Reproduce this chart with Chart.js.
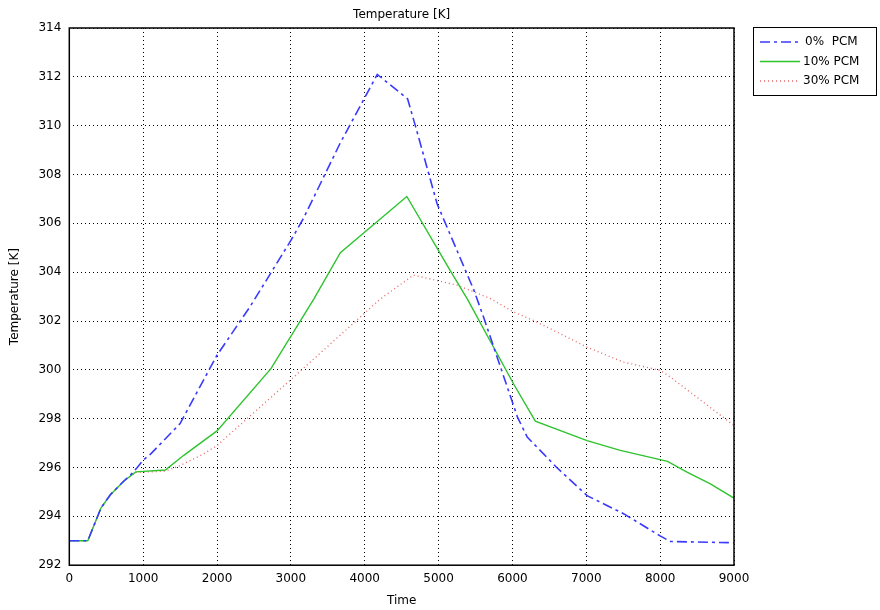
<!DOCTYPE html>
<html>
<head>
<meta charset="utf-8">
<script src="https://cdn.jsdelivr.net/npm/chart.js@4"></script>
<style>
  html, body { margin: 0; padding: 0; background: #fff; }
  #wrap { width: 880px; height: 610px; }
</style>
</head>
<body>
<div id="wrap"><canvas id="myChart" width="880" height="610"></canvas></div>
<script>
// serie: tempo [s] e temperatura [K]
const time0 = [0, 250, 430, 560, 740, 830, 920, 1000, 1100, 1500, 2000, 2450, 3000, 3170, 3670, 4170, 4580, 4690, 4980, 5480, 5610, 6070, 6200, 6600, 7010, 7510, 8000, 8140, 9000]
const temp0 = [293, 293, 294.35, 294.9, 295.45, 295.7, 296.0, 296.3, 296.55, 297.8, 300.6, 302.6, 305.3, 306.2, 309.3, 312.1, 311.1, 309.95, 306.8, 303.25, 302.15, 298.05, 297.25, 296.0, 294.85, 294.1, 293.2, 292.97, 292.92]

const time10 = [0, 250, 430, 560, 740, 900, 1300, 1550, 1820, 2000, 2730, 3310, 3670, 4570, 5160, 5390, 6020, 6310, 7010, 7460, 8100, 8370, 8680, 9000]
const temp10 = [293, 293, 294.35, 294.9, 295.45, 295.82, 295.9, 296.5, 297.1, 297.5, 300.05, 302.9, 304.8, 307.1, 304.05, 302.9, 299.4, 297.9, 297.1, 296.7, 296.25, 295.8, 295.33, 294.75]

const time30 = [0, 250, 430, 560, 740, 900, 1300, 1500, 1820, 2000, 3000, 4210, 4660, 5250, 5700, 6020, 6330, 7010, 7500, 8000, 8140, 9000]
const temp30 = [293, 293, 294.35, 294.9, 295.45, 295.8, 295.85, 296.08, 296.56, 296.9, 299.6, 302.9, 303.88, 303.47, 302.92, 302.37, 301.96, 300.93, 300.32, 299.98, 299.7, 297.72]

const seriesLabels = ['0%  PCM', '10% PCM', '30% PCM']
const xTicks = [0, 1000, 2000, 3000, 4000, 5000, 6000, 7000, 8000, 9000]
const yTicks = [292, 294, 296, 298, 300, 302, 304, 306, 308, 310, 312, 314]

const FONT = 'DejaVu Sans'

function toPoints(xs, ys) {
  return xs.map((x, i) => ({ x: x, y: ys[i] }))
}

// titolo sopra l'area del grafico + cornice nera
const framePlugin = {
  id: 'frame',
  afterDraw: function (chart) {
    const ctx = chart.ctx
    const a = chart.chartArea
    ctx.save()
    ctx.strokeStyle = '#000'
    ctx.lineWidth = 1.5
    ctx.strokeRect(a.left, a.top, a.right - a.left, a.bottom - a.top)
    ctx.fillStyle = '#000'
    ctx.font = '12px ' + FONT
    ctx.textAlign = 'center'
    ctx.textBaseline = 'middle'
    ctx.fillText('Temperature [K]', (a.left + a.right) / 2, 15)
    ctx.restore()
  },
}

// legenda con bordo, fuori a destra
const legendBoxPlugin = {
  id: 'legendBox',
  afterDraw: function (chart) {
    const ctx = chart.ctx
    const x0 = 753, y0 = 27, w = 123, h = 68
    ctx.save()
    ctx.fillStyle = '#fff'
    ctx.fillRect(x0, y0, w, h)
    ctx.strokeStyle = '#000'
    ctx.lineWidth = 1
    ctx.strokeRect(x0 + 0.5, y0 + 0.5, w, h)
    ctx.font = '12px ' + FONT
    ctx.textBaseline = 'middle'
    ctx.textAlign = 'left'
    chart.data.datasets.forEach(function (ds, i) {
      const y = y0 + 15 + i * 19.5
      ctx.strokeStyle = ds.borderColor
      ctx.lineWidth = ds.borderWidth
      ctx.setLineDash(ds.borderDash || [])
      ctx.beginPath()
      ctx.moveTo(x0 + 7, y)
      ctx.lineTo(x0 + 47, y)
      ctx.stroke()
      ctx.setLineDash([])
      ctx.fillStyle = '#000'
      ctx.fillText(ds.label, x0 + (i === 0 ? 52 : 50), y)
    })
    ctx.restore()
  },
}

Chart.register(framePlugin, legendBoxPlugin)

const ctx = document.getElementById('myChart').getContext('2d')

new Chart(ctx, {
  type: 'line',
  data: {
    datasets: [
      {
        label: seriesLabels[0],
        data: toPoints(time0, temp0),
        borderColor: '#3a3aff',
        borderWidth: 1.6,
        borderDash: [10, 4, 3, 4],
        pointRadius: 0,
        tension: 0,
      },
      {
        label: seriesLabels[1],
        data: toPoints(time10, temp10),
        borderColor: '#2ec42e',
        borderWidth: 1.4,
        pointRadius: 0,
        tension: 0,
      },
      {
        label: seriesLabels[2],
        data: toPoints(time30, temp30),
        borderColor: '#e86a6a',
        borderWidth: 1.4,
        borderDash: [1, 3],
        pointRadius: 0,
        tension: 0,
      },
    ],
  },
  options: {
    responsive: false,
    animation: false,
    events: [],
    layout: {
      padding: { top: 28, right: 146, left: 8, bottom: 2 },
    },
    plugins: {
      legend: { display: false },
      tooltip: { enabled: false },
      title: { display: false },
    },
    scales: {
      x: {
        type: 'linear',
        min: 0,
        max: 9000,
        afterBuildTicks: function (axis) {
          axis.ticks = xTicks.map(v => ({ value: v }))
        },
        ticks: {
          color: '#000',
          font: { family: FONT, size: 12 },
          padding: 6,
          maxRotation: 0,
          callback: function (value) {
            return String(value)
          },
        },
        grid: { color: '#000', lineWidth: 1, drawTicks: false },
        border: { display: false, dash: [1, 3] },
        title: {
          display: true,
          text: 'Time',
          color: '#000',
          font: { family: FONT, size: 12 },
          padding: { top: 2, bottom: 0 },
        },
      },
      y: {
        type: 'linear',
        min: 292,
        max: 314,
        afterBuildTicks: function (axis) {
          axis.ticks = yTicks.map(v => ({ value: v }))
        },
        ticks: {
          color: '#000',
          font: { family: FONT, size: 12 },
          padding: 8,
        },
        grid: { color: '#000', lineWidth: 1, drawTicks: false },
        border: { display: false, dash: [1, 3] },
        title: {
          display: true,
          text: 'Temperature [K]',
          color: '#000',
          font: { family: FONT, size: 12 },
          padding: { top: 0, bottom: 8 },
        },
      },
    },
  },
})
</script>
</body>
</html>
